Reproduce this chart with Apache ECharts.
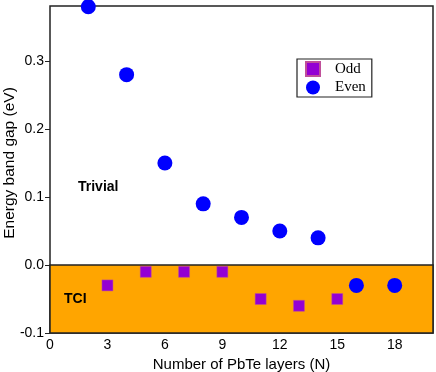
<!DOCTYPE html>
<html>
<head>
<meta charset="utf-8">
<script src="https://cdn.jsdelivr.net/npm/echarts@6/dist/echarts.min.js"></script>
<style>
  html, body { margin: 0; padding: 0; background: #fff; }
  #chart { width: 436px; height: 372px; }
</style>
</head>
<body>
<div id="chart"></div>
<script>
// layers N and gap values (eV)
var oddN = [3, 5, 7, 9, 11, 13, 15]
var oddGap = [-0.03, -0.01, -0.01, -0.01, -0.05, -0.06, -0.05]
var evenN = [2, 4, 6, 8, 10, 12, 14, 16, 18]
var evenGap = [0.38, 0.28, 0.15, 0.09, 0.07, 0.05, 0.04, -0.03, -0.03]
var xTicks = [0, 3, 6, 9, 12, 15, 18]

function pairs(xs, ys) {
  return xs.map(function (x, i) { return [x, ys[i]] })
}

var myChart = echarts.init(document.getElementById('chart'))
var font = 'Liberation Sans, Arial, sans-serif'
var option = {
  animation: false,
  grid: {
    left: 50,
    right: 3,
    top: 6,
    bottom: 39,
    containLabel: false,
    outerBoundsMode: 'none',
    show: true,
    borderColor: '#222',
    borderWidth: 1.5,
    backgroundColor: 'transparent'
  },
  legend: {
    left: 297,
    top: 59,
    orient: 'vertical',
    itemGap: 3,
    itemWidth: 14,
    itemHeight: 14,
    padding: [2, 6, 2, 8],
    borderColor: '#222',
    borderWidth: 1.2,
    textStyle: { fontFamily: 'Liberation Serif, Times New Roman, serif', fontSize: 15, color: '#000', padding: [0, 0, 0, 10] },
    data: [
      { name: 'Odd', icon: 'rect', itemStyle: { color: '#9400d3', opacity: 1 } },
      { name: 'Even', icon: 'circle', itemStyle: { color: '#0000ff', opacity: 1 } }
    ]
  },
  xAxis: {
    type: 'value',
    min: 0,
    max: 20,
    interval: 3,
    name: 'Number of PbTe layers (N)',
    nameLocation: 'middle',
    nameGap: 24,
    nameMoveOverlap: false,
    nameTextStyle: { fontFamily: font, fontSize: 15, color: '#000' },
    axisLine: { show: false },
    axisTick: { show: false },
    splitLine: { show: false },
    axisLabel: {
      fontFamily: font, fontSize: 14, color: '#000', margin: 5,
      showMaxLabel: false,
      formatter: function (v) { return xTicks.indexOf(v) >= 0 ? String(v) : '' }
    }
  },
  yAxis: {
    type: 'value',
    min: -0.1,
    max: 0.381,
    interval: 0.1,
    axisLine: { show: false },
    axisTick: { show: true, length: 5, lineStyle: { color: '#222' } },
    splitLine: { show: false },
    axisLabel: {
      fontFamily: font, fontSize: 14, color: '#000', margin: 6,
      showMaxLabel: false,
      formatter: function (v) { return v.toFixed(1) }
    }
  },
  series: [
    {
      name: 'Odd',
      type: 'scatter',
      symbol: 'rect',
      symbolSize: 11,
      itemStyle: { color: '#9400d3', opacity: 1, borderColor: '#c0509a', borderWidth: 0.5 },
      data: pairs(oddN, oddGap),
      z: 3,
      markArea: {
        silent: true,
        itemStyle: { color: '#ffa500', opacity: 1, borderColor: '#222', borderWidth: 1.5 },
        data: [[{ yAxis: -0.1, xAxis: 0 }, { yAxis: 0, xAxis: 20 }]]
      }
    },
    {
      name: 'Even',
      type: 'scatter',
      symbol: 'circle',
      symbolSize: 15,
      itemStyle: { color: '#0000ff', opacity: 1 },
      data: pairs(evenN, evenGap),
      z: 3
    }
  ],
  graphic: [
    // y axis title, placed by hand since it sits a bit above the plot's middle
    { type: 'text', x: 10, y: 163, rotation: Math.PI / 2, z: 100,
      style: { text: 'Energy band gap (eV)', font: '15.5px Liberation Sans, Arial, sans-serif', fill: '#000', align: 'center', verticalAlign: 'middle' } },
    { type: 'text', left: 78, top: 180, z: 100, style: { text: 'Trivial', font: 'bold 14px Liberation Sans, Arial, sans-serif', fill: '#000' } },
    { type: 'text', left: 64, top: 292, z: 100, style: { text: 'TCI', font: 'bold 14px Liberation Sans, Arial, sans-serif', fill: '#000' } }
  ]
}
myChart.setOption(option)
</script>
</body>
</html>
